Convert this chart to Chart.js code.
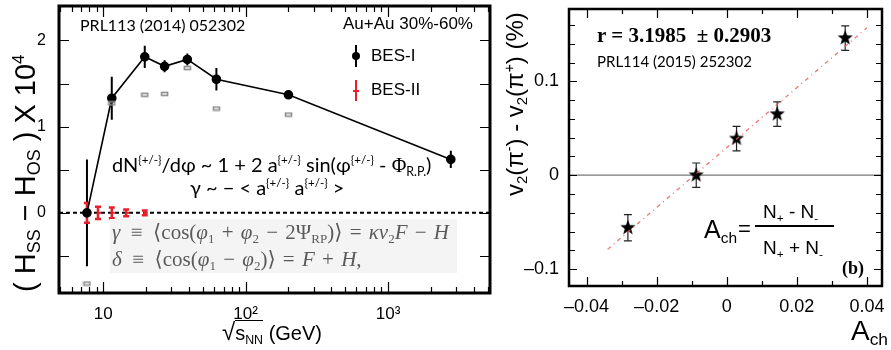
<!DOCTYPE html>
<html>
<head>
<meta charset="utf-8">
<script src="https://cdn.jsdelivr.net/npm/chart.js@4.4.0/dist/chart.umd.min.js"></script>
<style>
  html, body { margin: 0; padding: 0; background: #fff; }
  #wrap { position: relative; width: 891px; height: 350px; overflow: hidden; font-family: Arial, "Liberation Sans", sans-serif; color: #000; }
  #leftChart { position: absolute; left: 0; top: 0; }
  #rightChart { position: absolute; left: 500px; top: 0; }
  .t { position: absolute; white-space: nowrap; line-height: 1; }
  .cal { font-family: Lato, "Open Sans", sans-serif; }
  .sup { font-size: 0.58em; vertical-align: 0.65em; line-height: 0; }
  .sub { font-size: 0.62em; vertical-align: -0.3em; line-height: 0; }
  .tex { font-family: "Liberation Serif", "DejaVu Serif", serif; color: #5a5a5a; font-size: 21px; word-spacing: 2px; }
  .tex i { font-style: italic; }
  .rot { transform-origin: 0 0; }
  .legline { position: absolute; width: 2px; }
</style>
</head>
<body>
<div id="wrap">
  <canvas id="leftChart" width="500" height="350"></canvas>
  <canvas id="rightChart" width="391" height="350"></canvas>

  <!-- left panel annotations -->
  <div class="t cal" style="left:80px; top:17px; font-size:16px;">PRL113 (2014) 052302</div>
  <div class="t" style="left:343px; top:15px; font-size:17px;">Au+Au 30%-60%</div>

  <div class="legline" style="left:355px; top:45px; height:22px; background:#000;"></div>
  <div style="position:absolute; left:352px; top:52px; width:8px; height:8px; border-radius:50%; background:#000;"></div>
  <div class="t" style="left:371px; top:47px; font-size:17px;">BES-I</div>
  <div class="legline" style="left:355px; top:80px; height:21px; background:#e8202e;"></div>
  <div style="position:absolute; left:353px; top:90px; width:6px; height:2px; background:#e8202e;"></div>
  <div class="t" style="left:371px; top:81px; font-size:17px;">BES-II</div>

  <div class="t cal" style="left:112px; top:154px; font-size:20px;">dN<span class="sup">{+/-}</span>/dφ ~ 1 + 2 a<span class="sup">{+/-}</span> sin(φ<span class="sup">{+/-}</span> - <span style="font-family:'Liberation Serif',serif;">Φ</span><span class="sub">R.P.</span>)</div>
  <div class="t cal" style="left:190px; top:177px; font-size:20px;">γ ~ − &lt; a<span class="sup">{+/-}</span> a<span class="sup">{+/-}</span> &gt;</div>

  <div style="position:absolute; left:110px; top:219px; width:347px; height:54px; background:#f4f4f4;"></div>
  <div class="t tex" style="left:112px; top:222px;"><i>γ</i>&ensp;≡&ensp;⟨cos(<i>φ</i><span class="sub">1</span> + <i>φ</i><span class="sub">2</span> − 2Ψ<span class="sub">RP</span>)⟩ = <i>κv</i><span class="sub">2</span><i>F</i> − <i>H</i></div>
  <div class="t tex" style="left:112px; top:249px;"><i>δ</i>&ensp;≡&ensp;⟨cos(<i>φ</i><span class="sub">1</span> − <i>φ</i><span class="sub">2</span>)⟩ = <i>F</i> + <i>H</i>,</div>

  <div class="t rot" style="left:11px; top:292px; font-size:29px; transform: rotate(-90deg);">( H<span class="sub">SS</span> − H<span class="sub">OS</span> ) X 10<span class="sup">4</span></div>
  <div class="t" style="left:222px; top:320px; font-size:20px;"><span style="font-size:24px;">√</span><span style="border-top:1.5px solid #000; padding-top:1px;">s<span class="sub">NN</span></span> (GeV)</div>

  <!-- right panel annotations -->
  <div class="t" style="left:597px; top:25px; font-family:'Liberation Serif',serif; font-weight:bold; font-size:21px;">r = 3.1985&ensp;± 0.2903</div>
  <div class="t cal" style="left:597px; top:54px; font-size:15px;">PRL114 (2015) 252302</div>

  <div class="t" style="left:704px; top:217px; font-size:25px;">A<span class="sub">ch</span></div>
  <div class="t" style="left:738px; top:218px; font-size:22px;">=</div>
  <div style="position:absolute; left:755px; top:225px; width:79px; height:2px; background:#000;"></div>
  <div class="t" style="left:763px; top:202px; font-size:19px;">N<span class="sub">+</span> - N<span class="sub">-</span></div>
  <div class="t" style="left:763px; top:238px; font-size:19px;">N<span class="sub">+</span> + N<span class="sub">-</span></div>
  <div class="t" style="left:842px; top:259px; font-family:'Liberation Serif',serif; font-weight:bold; font-size:18px;">(b)</div>

  <div class="t rot" style="left:503px; top:196px; font-size:24px; transform: rotate(-90deg);">v<span class="sub">2</span>(π<span class="sup">-</span>) - v<span class="sub">2</span>(π<span class="sup">+</span>) (%)</div>
  <div class="t" style="right:3px; top:317px; font-size:28px;">A<span class="sub">ch</span></div>
</div>

<script>
// STAR BES-I: (H_SS - H_OS) x 10^4 vs collision energy, 30-60% Au+Au
const besEnergy = [7.7, 11.5, 19.6, 27, 39, 62.4, 200, 2760];
const besValue = [0.0, 1.33, 1.81, 1.70, 1.78, 1.55, 1.37, 0.62];
const besError = [0.62, 0.25, 0.13, 0.07, 0.07, 0.13, 0.02, 0.10];
const besSysEnergy = [7.7, 11.5, 19.6, 27, 39, 62.4, 200];
const besSysValue = [-0.82, 1.27, 1.37, 1.38, 1.68, 1.21, 1.14];

// BES-II projected uncertainties
const bes2Energy = [7.7, 9.2, 11.5, 14.5, 19.6];
const bes2Value = [0, 0, 0, 0, 0];
const bes2Error = [0.115, 0.07, 0.063, 0.04, 0.027];

// v2(pi-) - v2(pi+) vs charge asymmetry
const achValue = [-0.0282, -0.0087, 0.0028, 0.0144, 0.0338];
const v2Diff = [-0.056, 0.000, 0.039, 0.065, 0.146];
const v2DiffErr = [0.014, 0.013, 0.013, 0.013, 0.013];
const fitAch = [-0.034, 0.040];
const fitV2 = [-0.079, 0.157];

// axis ticks
const energyTicks = [10, 100, 1000];
const energyTickLabels = ['10', '10²', '10³'];
const energyMinor = [5, 6, 7, 8, 9, 20, 30, 40, 50, 60, 70, 80, 90, 200, 300, 400, 500, 600, 700, 800, 900, 2000, 3000, 4000, 5000];
const hTicks = [0, 1, 2];
const hTickLabels = ['0', '1', '2'];
const hMinor = [-0.5, 0.5, 1.5];
const achTicks = [-0.04, -0.02, 0, 0.02, 0.04];
const achTickLabels = ['–0.04', '–0.02', '0', '0.02', '0.04'];
const achMinor = [-0.03, -0.01, 0.01, 0.03];
const v2Ticks = [-0.1, 0, 0.1];
const v2TickLabels = ['–0.1', '0', '0.1'];
const v2Minor = [-0.08, -0.06, -0.04, -0.02, 0.02, 0.04, 0.06, 0.08, 0.12, 0.14, 0.16];

function pairs(xs, ys) {
    return xs.map((x, i) => ({ x: x, y: ys[i] }));
}

// filled five-point star used as marker
function makeStar(r) {
    const c = document.createElement('canvas');
    c.width = c.height = Math.ceil(r * 2 + 2);
    const g = c.getContext('2d');
    const cx = c.width / 2, cy = c.height / 2;
    g.beginPath();
    for (let i = 0; i < 10; i++) {
        const rad = i % 2 === 0 ? r : r * 0.42;
        const a = -Math.PI / 2 + i * Math.PI / 5;
        g.lineTo(cx + rad * Math.cos(a), cy + rad * Math.sin(a));
    }
    g.closePath();
    g.fillStyle = '#000';
    g.fill();
    return c;
}

// small grey bracket for systematic errors
function makeBracket() {
    const c = document.createElement('canvas');
    c.width = 9; c.height = 6;
    const g = c.getContext('2d');
    g.strokeStyle = '#8c8c8c';
    g.lineWidth = 1.6;
    g.strokeRect(1.5, 1.5, 6, 3);
    return c;
}

// fixed axis sizes, no extra padding for edge labels
function fixWidth(w) {
    return s => { s.width = w; s.paddingTop = 0; s.paddingBottom = 0; };
}
function fixHeight(h) {
    return s => { s.height = h; s.paddingLeft = 0; s.paddingRight = 0; };
}

// vertical error bars, drawn under the markers
const errorBarPlugin = {
    id: 'errorBars',
    beforeDatasetsDraw(chart) {
        const { ctx } = chart;
        const sx = chart.scales.x, sy = chart.scales.y;
        (chart.options.errorBars || []).forEach(eb => {
            ctx.save();
            ctx.strokeStyle = eb.color;
            ctx.lineWidth = eb.width;
            ctx.beginPath();
            eb.x.forEach((xv, i) => {
                const px = sx.getPixelForValue(xv);
                const top = sy.getPixelForValue(eb.y[i] + eb.err[i]);
                const bot = sy.getPixelForValue(eb.y[i] - eb.err[i]);
                ctx.moveTo(px, top);
                ctx.lineTo(px, bot);
                if (eb.cap) {
                    ctx.moveTo(px - eb.cap, top); ctx.lineTo(px + eb.cap, top);
                    ctx.moveTo(px - eb.cap, bot); ctx.lineTo(px + eb.cap, bot);
                }
            });
            ctx.stroke();
            ctx.restore();
        });
    }
};

// horizontal reference line at y = 0
const zeroLinePlugin = {
    id: 'zeroLine',
    beforeDatasetsDraw(chart) {
        const z = chart.options.zeroLine;
        if (!z) return;
        const { ctx, chartArea: a } = chart;
        const py = chart.scales.y.getPixelForValue(0);
        ctx.save();
        ctx.strokeStyle = z.color;
        ctx.lineWidth = z.width;
        ctx.setLineDash(z.dash || []);
        ctx.beginPath();
        ctx.moveTo(a.left, py);
        ctx.lineTo(a.right, py);
        ctx.stroke();
        ctx.restore();
    }
};

// box frame with inward ticks on all four sides
const framePlugin = {
    id: 'frame',
    afterDraw(chart) {
        const f = chart.options.frame;
        const { ctx, chartArea: a } = chart;
        const sx = chart.scales.x, sy = chart.scales.y;
        ctx.save();
        ctx.strokeStyle = '#000';
        ctx.lineWidth = f.tickWidth;
        ctx.beginPath();
        const xt = f.xMajor.map(v => [v, f.xMajorLen]).concat(f.xMinor.map(v => [v, f.xMinorLen]));
        xt.forEach(([v, len]) => {
            const px = Math.round(sx.getPixelForValue(v)) + 0.5;
            if (px < a.left || px > a.right) return;
            ctx.moveTo(px, a.bottom); ctx.lineTo(px, a.bottom - len);
            ctx.moveTo(px, a.top); ctx.lineTo(px, a.top + len);
        });
        const yt = f.yMajor.map(v => [v, f.yMajorLen]).concat(f.yMinor.map(v => [v, f.yMinorLen]));
        yt.forEach(([v, len]) => {
            const py = Math.round(sy.getPixelForValue(v)) + 0.5;
            if (py < a.top || py > a.bottom) return;
            ctx.moveTo(a.left, py); ctx.lineTo(a.left + len, py);
            ctx.moveTo(a.right, py); ctx.lineTo(a.right - len, py);
        });
        ctx.stroke();
        ctx.lineWidth = f.width;
        ctx.strokeRect(a.left, a.top, a.right - a.left, a.bottom - a.top);
        ctx.restore();
    }
};

Chart.defaults.font.family = 'Arial, "Liberation Sans", sans-serif';
Chart.defaults.color = '#000';

new Chart(document.getElementById('leftChart'), {
    type: 'scatter',
    data: {
        datasets: [
            {
                label: 'BES-I sys',
                data: pairs(besSysEnergy, besSysValue),
                pointStyle: makeBracket(),
                pointRadius: 4
            },
            {
                label: 'BES-I',
                data: pairs(besEnergy, besValue),
                showLine: true,
                borderColor: '#000',
                borderWidth: 1.6,
                pointRadius: 4,
                pointBackgroundColor: '#000',
                pointBorderColor: '#000'
            },
            {
                label: 'BES-II',
                data: pairs(bes2Energy, bes2Value),
                pointStyle: 'dash',
                pointRadius: 3,
                borderColor: '#e8202e',
                pointBorderWidth: 2
            }
        ]
    },
    options: {
        responsive: false,
        animation: false,
        layout: { padding: { top: 3, right: 10, left: 0, bottom: 0 } },
        plugins: { legend: { display: false }, tooltip: { enabled: false } },
        errorBars: [
            { x: besEnergy, y: besValue, err: besError, color: '#000', width: 2 },
            { x: bes2Energy, y: bes2Value, err: bes2Error, color: '#e8202e', width: 2.5, cap: 3 }
        ],
        zeroLine: { color: '#000', width: 2, dash: [4, 3] },
        frame: {
            width: 3, tickWidth: 1.2,
            xMajor: energyTicks, xMinor: energyMinor, xMajorLen: 11, xMinorLen: 6,
            yMajor: hTicks, yMinor: hMinor, yMajorLen: 10, yMinorLen: 10
        },
        scales: {
            x: {
                type: 'logarithmic',
                min: 4.9,
                max: 5200,
                grid: { display: false },
                border: { display: false },
                afterBuildTicks: s => { s.ticks = energyTicks.map(v => ({ value: v })); },
                afterFit: fixHeight(57),
                ticks: {
                    callback: (v, i) => energyTickLabels[i],
                    font: { size: 17 },
                    padding: 3,
                    maxRotation: 0,
                    autoSkip: false
                }
            },
            y: {
                min: -0.93,
                max: 2.4,
                grid: { display: false },
                border: { display: false },
                afterBuildTicks: s => { s.ticks = hTicks.map(v => ({ value: v })); },
                afterFit: fixWidth(59),
                ticks: {
                    callback: (v, i) => hTickLabels[i],
                    font: { size: 16 },
                    padding: 5
                }
            }
        }
    },
    plugins: [zeroLinePlugin, errorBarPlugin, framePlugin]
});

new Chart(document.getElementById('rightChart'), {
    type: 'scatter',
    data: {
        datasets: [
            {
                label: 'fit',
                data: pairs(fitAch, fitV2),
                showLine: true,
                borderColor: 'rgba(240, 90, 90, 0.85)',
                borderWidth: 1.3,
                borderDash: [4, 4, 1, 4],
                pointRadius: 0
            },
            {
                label: 'data',
                data: pairs(achValue, v2Diff),
                pointStyle: makeStar(8),
                pointRadius: 8
            }
        ]
    },
    options: {
        responsive: false,
        animation: false,
        layout: { padding: { top: 3, right: 6, left: 0, bottom: 0 } },
        plugins: { legend: { display: false }, tooltip: { enabled: false } },
        errorBars: [
            { x: achValue, y: v2Diff, err: v2DiffErr, color: '#222', width: 1.2, cap: 4 }
        ],
        zeroLine: { color: '#777', width: 1.2 },
        frame: {
            width: 2.5, tickWidth: 1.2,
            xMajor: achTicks, xMinor: achMinor, xMajorLen: 9, xMinorLen: 5,
            yMajor: v2Ticks, yMinor: v2Minor, yMajorLen: 8, yMinorLen: 6
        },
        scales: {
            x: {
                type: 'linear',
                min: -0.045,
                max: 0.0443,
                grid: { display: false },
                border: { display: false },
                afterBuildTicks: s => { s.ticks = achTicks.map(v => ({ value: v })); },
                afterFit: fixHeight(64),
                ticks: {
                    callback: (v, i) => achTickLabels[i],
                    font: { size: 18 },
                    padding: 2,
                    maxRotation: 0,
                    autoSkip: false
                }
            },
            y: {
                min: -0.118,
                max: 0.177,
                grid: { display: false },
                border: { display: false },
                afterBuildTicks: s => { s.ticks = v2Ticks.map(v => ({ value: v })); },
                afterFit: fixWidth(69),
                ticks: {
                    callback: (v, i) => v2TickLabels[i],
                    font: { size: 18 },
                    padding: 2
                }
            }
        }
    },
    plugins: [zeroLinePlugin, errorBarPlugin, framePlugin]
});
</script>
</body>
</html>
